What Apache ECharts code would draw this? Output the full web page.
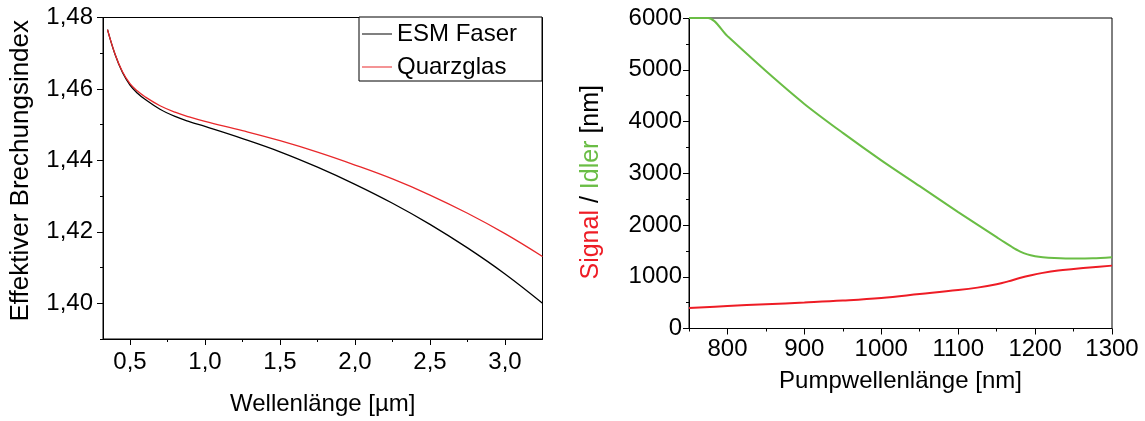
<!DOCTYPE html>
<html>
<head>
<meta charset="utf-8">
<script src="https://cdn.jsdelivr.net/npm/echarts@6/dist/echarts.min.js"></script>
<style>
html,body{margin:0;padding:0;background:#fff;}
#c{width:1145px;height:421px;}
</style>
</head>
<body>
<div id="c"></div>
<script>
// ---- Left chart data ----
const waveX   = [0.35, 0.40, 0.45, 0.50, 0.55, 0.60, 0.70, 0.80, 0.90, 1.00, 1.25, 1.50, 1.75, 2.00, 2.25, 2.50, 2.75, 3.00, 3.25];
const esmY    = [1.4766, 1.4697, 1.4646, 1.4611, 1.4588, 1.4571, 1.4543, 1.4523, 1.4508, 1.4495, 1.4461, 1.4424, 1.4381, 1.4333, 1.4280, 1.4221, 1.4155, 1.4082, 1.4000];
const quarzY  = [1.4766, 1.4698, 1.4648, 1.4615, 1.4594, 1.4578, 1.4553, 1.4535, 1.4521, 1.4509, 1.4483, 1.4455, 1.4423, 1.4387, 1.4348, 1.4303, 1.4252, 1.4195, 1.4131];
const leftXMajor = [0.5, 1.0, 1.5, 2.0, 2.5, 3.0];
const leftXMinor = [0.75, 1.25, 1.75, 2.25, 2.75];
const leftYMajor = [1.40, 1.42, 1.44, 1.46, 1.48];
const leftYMinor = [1.39, 1.41, 1.43, 1.45, 1.47];

// ---- Right chart data ----
const idlerX  = [750, 775, 800, 850, 900, 950, 1000, 1050, 1100, 1150, 1160, 1170, 1180, 1190, 1200, 1210, 1225, 1250, 1275, 1300];
const idlerY  = [6000, 6000, 5650, 4975, 4340, 3780, 3250, 2750, 2250, 1765, 1668, 1575, 1492, 1432, 1398, 1378, 1363, 1352, 1356, 1378];
const signalX = [750, 800, 850, 900, 950, 1000, 1050, 1100, 1125, 1150, 1165, 1180, 1195, 1210, 1230, 1250, 1275, 1300];
const signalY = [395, 435, 468, 502, 540, 590, 665, 742, 790, 855, 910, 975, 1030, 1075, 1120, 1150, 1185, 1215];
const rightXMajor = [800, 900, 1000, 1100, 1200, 1300];
const rightXMinor = [750, 850, 950, 1050, 1150, 1250];

const FONT = "'Liberation Sans', Arial, sans-serif";
const pairs = (xs, ys) => xs.map((x, i) => [x, ys[i]]);
const comma = (v, d) => v.toFixed(d).replace('.', ',');
const TICK = { color: '#000', width: 1 };

const chart = echarts.init(document.getElementById('c'));
chart.setOption({
  animation: false,
  backgroundColor: '#fff',
  textStyle: { fontFamily: FONT },
  grid: [
    { left: 103, top: 17.5, width: 439.5, height: 323.5, show: true, borderColor: '#000', borderWidth: 1, containLabel: false },
    { left: 689, top: 18, width: 423, height: 310.5, show: true, borderColor: '#000', borderWidth: 1, containLabel: false }
  ],
  legend: {
    data: [{ name: 'ESM Faser', icon: 'rect' }, { name: 'Quarzglas', icon: 'rect' }],
    orient: 'vertical',
    left: 359, top: 17,
    padding: [5, 25, 2, 3],
    itemGap: 9,
    itemWidth: 30, itemHeight: 1,
    borderColor: '#000', borderWidth: 1,
    backgroundColor: '#fff',
    textStyle: { fontSize: 24, color: '#000', fontFamily: FONT, lineHeight: 24 }
  },
  xAxis: [
    {
      type: 'value', gridIndex: 0, min: 0.32, max: 3.25, position: 'bottom',
      name: 'Wellenlänge [µm]', nameLocation: 'middle', nameGap: 53,
      nameTextStyle: { fontSize: 24, color: '#000', fontFamily: FONT },
      axisLine: { show: true, lineStyle: { color: '#000' } },
      axisTick: { show: true, customValues: leftXMajor, length: 6, lineStyle: TICK },
      axisLabel: { show: true, customValues: leftXMajor, fontSize: 24, color: '#000', margin: 11, formatter: v => comma(v, 1) },
      splitLine: { show: false }
    },
    {
      type: 'value', gridIndex: 0, min: 0.32, max: 3.25, position: 'bottom',
      axisLine: { show: false },
      axisTick: { show: true, customValues: leftXMinor, length: 3, lineStyle: TICK },
      axisLabel: { show: false },
      splitLine: { show: false }
    },
    {
      type: 'value', gridIndex: 1, min: 750, max: 1300, position: 'bottom',
      name: 'Pumpwellenlänge [nm]', nameLocation: 'middle', nameGap: 41,
      nameTextStyle: { fontSize: 24, color: '#000', fontFamily: FONT },
      axisLine: { show: true, lineStyle: { color: '#000' } },
      axisTick: { show: true, customValues: rightXMajor, length: 6, lineStyle: TICK },
      axisLabel: { show: true, customValues: rightXMajor, fontSize: 24, color: '#000', margin: 9, formatter: v => String(v) },
      splitLine: { show: false }
    },
    {
      type: 'value', gridIndex: 1, min: 750, max: 1300, position: 'bottom',
      axisLine: { show: false },
      axisTick: { show: true, customValues: rightXMinor, length: 3, lineStyle: TICK },
      axisLabel: { show: false },
      splitLine: { show: false }
    }
  ],
  yAxis: [
    {
      type: 'value', gridIndex: 0, min: 1.39, max: 1.48, position: 'left',
      name: 'Effektiver Brechungsindex', nameLocation: 'middle', nameGap: 69, nameRotate: 90,
      nameTextStyle: { fontSize: 26, color: '#000', fontFamily: FONT, padding: [0, 0, 0, 15] },
      axisLine: { show: true, lineStyle: { color: '#000' } },
      axisTick: { show: true, customValues: leftYMajor, length: 6, lineStyle: TICK },
      axisLabel: { show: true, customValues: leftYMajor, fontSize: 24, color: '#000', margin: 10, formatter: v => comma(v, 2) },
      splitLine: { show: false }
    },
    {
      type: 'value', gridIndex: 0, min: 1.39, max: 1.48, position: 'left',
      axisLine: { show: false },
      axisTick: { show: true, customValues: leftYMinor, length: 3, lineStyle: TICK },
      axisLabel: { show: false },
      splitLine: { show: false }
    },
    {
      type: 'value', gridIndex: 1, min: 0, max: 6000, interval: 1000, position: 'left',
      name: '{r|Signal} / {g|Idler} [nm]', nameLocation: 'middle', nameGap: 85, nameRotate: 90,
      nameTextStyle: {
        fontSize: 25, color: '#000', fontFamily: FONT, padding: [0, 18, 0, 0],
        rich: {
          r: { fontSize: 25, color: '#ee1c25', fontFamily: FONT },
          g: { fontSize: 25, color: '#6abd45', fontFamily: FONT }
        }
      },
      axisLine: { show: true, lineStyle: { color: '#000' } },
      axisTick: { show: true, length: 6, lineStyle: TICK },
      minorTick: { show: true, splitNumber: 2, length: 3, lineStyle: TICK },
      axisLabel: { show: true, fontSize: 24, color: '#000', margin: 7, formatter: v => String(v) },
      splitLine: { show: false },
      minorSplitLine: { show: false }
    }
  ],
  series: [
    {
      name: 'ESM Faser', type: 'line', xAxisIndex: 0, yAxisIndex: 0,
      data: pairs(waveX, esmY), symbol: 'none', smooth: 0.4,
      lineStyle: { color: '#000', width: 1.3 }, itemStyle: { color: '#000' }
    },
    {
      name: 'Quarzglas', type: 'line', xAxisIndex: 0, yAxisIndex: 0,
      data: pairs(waveX, quarzY), symbol: 'none', smooth: 0.4,
      lineStyle: { color: '#e8282b', width: 1.3 }, itemStyle: { color: '#e8282b' }
    },
    {
      name: 'Idler', type: 'line', xAxisIndex: 2, yAxisIndex: 2,
      data: pairs(idlerX, idlerY), symbol: 'none', smooth: 0.3,
      lineStyle: { color: '#6abd45', width: 2 }
    },
    {
      name: 'Signal', type: 'line', xAxisIndex: 2, yAxisIndex: 2,
      data: pairs(signalX, signalY), symbol: 'none', smooth: 0.4,
      lineStyle: { color: '#ee1c25', width: 2 }
    }
  ]
});
</script>
</body>
</html>
